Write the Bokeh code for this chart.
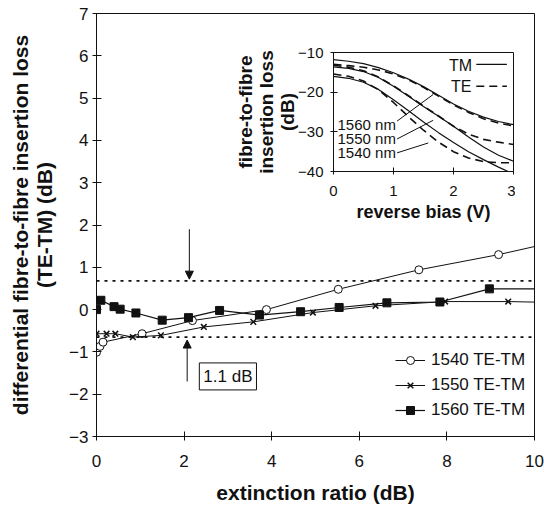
from bokeh.plotting import figure
from bokeh.layouts import column
from bokeh.models import (Range1d, FixedTicker, Legend, LegendItem, Span, Arrow,
                          NormalHead, Label)
from bokeh.embed import file_html
from bokeh.resources import INLINE
from bokeh.core.properties import value

FONT = "Liberation Sans"
INK = "#111111"

# ---------------- main chart data ----------------
x_ticks = [0, 2, 4, 6, 8, 10]
y_ticks = [-3, -2, -1, 0, 1, 2, 3, 4, 5, 6, 7]

ext_1540 = [0.0, 0.08, 0.15, 1.04, 2.19, 3.88, 5.52, 7.36, 9.18, 10.6]
dl_1540 = [-1.01, -0.87, -0.77, -0.57, -0.26, 0.0, 0.48, 0.94, 1.30, 1.63]

ext_1550 = [0.0, 0.23, 0.43, 0.83, 1.47, 2.45, 3.58, 4.94, 6.37, 7.96, 9.40, 10.8]
dl_1550 = [-0.57, -0.57, -0.57, -0.65, -0.61, -0.41, -0.29, -0.07, 0.09, 0.19, 0.19, 0.16]

ext_1560 = [0.0, 0.10, 0.40, 0.54, 0.90, 1.50, 2.10, 2.81, 3.72, 4.66, 5.54, 6.63, 7.84, 8.97, 10.1]
dl_1560 = [0.0, 0.22, 0.07, 0.01, -0.08, -0.25, -0.19, -0.02, -0.13, -0.05, 0.05, 0.16, 0.18, 0.49, 0.49]

legend_labels = ["1540 TE-TM", "1550 TE-TM", "1560 TE-TM"]

window_levels = [0.68, -0.65]
arrow_down = dict(x=2.12, y0=1.9, y1=0.72)
arrow_up = dict(x=2.07, y0=-1.7, y1=-0.72)
window_text = "1.1 dB"
window_text_pos = (3.0, -1.58)

# ---------------- inset data ----------------
bias = [0, 0.25, 0.5, 0.75, 1.0, 1.25, 1.5, 1.75, 2.0, 2.25, 2.5, 2.75, 3.0]
tm_1560 = [-11.8, -12.2, -12.8, -13.8, -15.1, -16.7, -18.6, -20.8, -23.0, -24.8, -26.3, -27.4, -28.2]
te_1560 = [-13.0, -13.3, -13.7, -14.4, -15.4, -16.9, -18.8, -21.0, -23.2, -25.1, -26.7, -27.8, -28.5]
tm_1550 = [-13.6, -14.0, -14.8, -16.3, -18.5, -21.0, -23.6, -26.1, -28.6, -31.3, -33.8, -35.9, -37.4]
te_1550 = [-13.2, -13.7, -14.6, -16.2, -18.4, -20.9, -23.5, -26.0, -28.6, -30.6, -31.9, -32.6, -33.2]
tm_1540 = [-16.0, -16.5, -17.5, -19.3, -21.9, -24.7, -27.5, -30.2, -32.7, -35.0, -37.0, -38.9, -40.6]
te_1540 = [-15.4, -16.0, -17.2, -19.4, -22.6, -26.2, -29.6, -32.6, -35.0, -36.6, -37.5, -37.8, -37.8]

inset_x_ticks = [0, 1, 2, 3]
inset_y_ticks = [-40, -30, -20, -10]

wl_labels = ["1560 nm", "1550 nm", "1540 nm"]
wl_label_x = [1.04, 1.04, 1.04]
wl_label_y = [-28.2, -31.7, -35.3]
lead_x0 = [1.06, 1.06, 1.06]
lead_y0 = [-27.3, -31.8, -35.3]
lead_x1 = [1.66, 1.66, 1.58]
lead_y1 = [-20.6, -27.1, -32.8]

key_labels = ["TM", "TE"]
key_text_x = [2.31, 2.30]
key_text_y = [-13.4, -18.5]
key_x0 = [2.38, 2.38]
key_x1 = [2.89, 2.89]
key_y = [-13.0, -18.5]

# ---------------- main figure ----------------
p = figure(frame_width=438, frame_height=423, output_backend="svg",
           toolbar_location=None,
           x_range=Range1d(0, 10), y_range=Range1d(-3, 7),
           min_border_left=116, min_border_right=10, min_border_top=13,
           min_border_bottom=69)
p.styles = {"position": "relative", "left": "-20px"}
p.background_fill_color = "white"
p.border_fill_color = "white"
p.outline_line_color = INK
p.outline_line_width = 1
p.grid.visible = False

for ax in (p.xaxis[0], p.yaxis[0]):
    ax.axis_line_color = INK
    ax.major_tick_line_color = INK
    ax.minor_tick_line_color = None
    ax.major_tick_in = 5
    ax.major_tick_out = 4
    ax.major_label_text_font = FONT
    ax.major_label_text_font_size = "17px"
    ax.major_label_text_color = INK
    ax.axis_label_text_font = FONT
    ax.axis_label_text_font_size = "21px"
    ax.axis_label_text_font_style = "bold"
    ax.axis_label_text_color = INK

p.xaxis[0].ticker = FixedTicker(ticks=x_ticks)
p.yaxis[0].ticker = FixedTicker(ticks=y_ticks)
p.xaxis[0].axis_label = "extinction ratio (dB)"
p.yaxis[0].axis_label = "differential fibre-to-fibre insertion loss\n(TE-TM) (dB)"
p.yaxis[0].axis_label_text_line_height = 1.05
p.xaxis[0].major_label_standoff = 14
p.xaxis[0].axis_label_standoff = 11
p.yaxis[0].major_label_standoff = 4
p.yaxis[0].axis_label_standoff = 10

for lev in window_levels:
    p.add_layout(Span(location=lev, dimension="width", line_color=INK,
                      line_width=1.6, line_dash="3 5"))

r1l = p.line(ext_1540, dl_1540, line_color=INK, line_width=1)
r1m = p.scatter(ext_1540, dl_1540, marker="circle", size=8, fill_color="white",
                line_color=INK, line_width=1)
r2l = p.line(ext_1550, dl_1550, line_color=INK, line_width=1)
r2m = p.scatter(ext_1550, dl_1550, marker="x", size=8, line_color=INK, line_width=1.5)
r3l = p.line(ext_1560, dl_1560, line_color=INK, line_width=1.2)
r3m = p.scatter(ext_1560, dl_1560, marker="square", size=8, fill_color=INK,
                line_color=INK)

legend = Legend(items=[LegendItem(label=legend_labels[0], renderers=[r1l, r1m]),
                       LegendItem(label=legend_labels[1], renderers=[r2l, r2m]),
                       LegendItem(label=legend_labels[2], renderers=[r3l, r3m])],
                location=(299, 16), glyph_width=30, glyph_height=20,
                label_standoff=6, label_height=20, spacing=5, padding=0, margin=0,
                label_text_font=FONT, label_text_font_size="17px",
                label_text_color=INK, border_line_color=None,
                background_fill_alpha=0)
p.add_layout(legend)

for a in (arrow_down, arrow_up):
    p.add_layout(Arrow(end=NormalHead(size=8, fill_color=INK, line_color=INK),
                       x_start=a["x"], y_start=a["y0"], x_end=a["x"], y_end=a["y1"],
                       line_color=INK, line_width=1))

p.add_layout(Label(x=window_text_pos[0], y=window_text_pos[1], text=window_text,
                   text_align="center", text_baseline="middle",
                   text_font=FONT, text_font_size="17px", text_color=INK,
                   border_line_color=INK, border_line_width=1,
                   background_fill_color="white", padding=4))

# ---------------- inset figure ----------------
q = figure(frame_width=180, frame_height=119, output_backend="svg",
           toolbar_location=None,
           x_range=Range1d(0, 3), y_range=Range1d(-40, -10),
           min_border_left=110, min_border_right=8, min_border_top=13,
           min_border_bottom=64)
q.styles = {"position": "absolute", "left": "217px", "top": "39px"}
q.background_fill_alpha = 0
q.border_fill_alpha = 0
q.outline_line_color = INK
q.grid.visible = False
for ax in (q.xaxis[0], q.yaxis[0]):
    ax.axis_line_color = INK
    ax.major_tick_line_color = INK
    ax.minor_tick_line_color = None
    ax.major_tick_in = 4
    ax.major_tick_out = 3
    ax.major_label_text_font = FONT
    ax.major_label_text_font_size = "15px"
    ax.major_label_text_color = INK
    ax.axis_label_text_font = FONT
    ax.axis_label_text_font_style = "bold"
    ax.axis_label_text_color = INK
q.xaxis[0].ticker = FixedTicker(ticks=inset_x_ticks)
q.yaxis[0].ticker = FixedTicker(ticks=inset_y_ticks)
q.xaxis[0].axis_label = "reverse bias (V)"
q.xaxis[0].axis_label_text_font_size = "18px"
q.xaxis[0].major_label_standoff = 11
q.xaxis[0].axis_label_standoff = 3
q.yaxis[0].axis_label = "fibre-to-fibre\ninsertion loss\n(dB)"
q.yaxis[0].axis_label_text_font_size = "19px"
q.yaxis[0].axis_label_text_line_height = 1.0
q.yaxis[0].major_label_standoff = 7
q.yaxis[0].axis_label_standoff = -3

for tm in (tm_1560, tm_1550, tm_1540):
    q.line(bias, tm, line_color=INK, line_width=1.2)
for te in (te_1560, te_1550, te_1540):
    q.line(bias, te, line_color=INK, line_width=1.6, line_dash="8 5")

q.segment(lead_x0, lead_y0, lead_x1, lead_y1, line_color=INK, line_width=1)
q.text(wl_label_x, wl_label_y, text=wl_labels, text_align="right",
       text_baseline="middle", text_font=value(FONT), text_font_size="15px",
       text_color=INK)
q.text(key_text_x, key_text_y, text=key_labels, text_align="right",
       text_baseline="middle", text_font=value(FONT), text_font_size="16px",
       text_color=INK)
q.segment(key_x0[:1], key_y[:1], key_x1[:1], key_y[:1], line_color=INK, line_width=1.2)
q.segment(key_x0[1:], key_y[1:], key_x1[1:], key_y[1:], line_color=INK,
          line_width=1.6, line_dash="8 5")

layout = column(p, q)
open("out.html", "w").write(file_html(layout, INLINE))
